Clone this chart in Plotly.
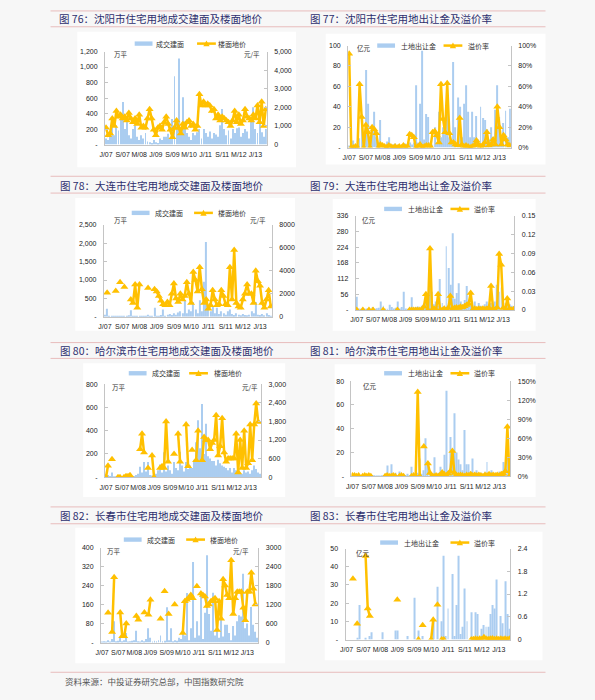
import plotly.graph_objects as go

W, H = 595, 700
BG = "#f7f7f7"
BAR_COLOR = "#abcdf0"
LINE_COLOR = "#ffc000"
AXIS_COLOR = "#c4c4c4"
TITLE_COLOR = "#2e2f6e"
RULE_COLOR = "#e8bcbc"
CJK = "Noto Sans CJK SC"
LAT = "Liberation Sans, Arial"

# ---- time axis: monthly, Jan 2007 .. Jun 2013 ----
N_MONTHS = 78
months = list(range(N_MONTHS))
x_tick_vals = [0, 8, 16, 24, 32, 40, 48, 56, 64, 72]
x_tick_text = ["J/07", "S/07", "M/08", "J/09", "S/09", "M/10", "J/11", "S/11", "M/12", "J/13"]

# ---- Fig 76 Shenyang: deal floor area (万平) & floor price (元/平) ----
sy_area = [80, 60, 150, 300, 120, 250, 180, 350, 550, 200,
           300, 120, 80, 200, 250, 100, 60, 120, 80, 150,
           40, 30, 20, 60, 30, 20, 80, 60, 100, 100,
           140, 80, 330, 880, 300, 1110, 200, 610, 300, 150,
           100, 60, 150, 120, 160, 200, 80, 200, 150, 100,
           170, 80, 150, 130, 100, 250, 460, 200, 120, 180,
           80, 200, 150, 210, 220, 100, 150, 200, 170, 80,
           300, 480, 200, 150, 300, 160, 100, 200]
sy_price = [900, 500, 600, 1400, 1000, 1800, 1500, 1600, 1400, 1500,
            1300, 1700, 1400, 1200, 1400, 1100, 1600, 900, 1000, 900,
            1400, 1900, 1400, 800, 500, 900, 1000, 800, 1200, 1500,
            1100, 800, 400, 900, 1300, 900, 600, 1100, 900, 1200,
            1300, 1000, 1100, 800, 1000, 2700, 2100, 2300, 2100, 2200,
            2100, 1800, 1900, 1400, 1600, 1300, 1500, 1400, 1300, 1200,
            1000, 1300, 1800, 1200, 1600, 1100, 1300, 1900, 1500, 1400,
            1300, 1600, 1400, 2100, 1200, 2300, 1000, 1900]
sy_left_vals = [0, 200, 400, 600, 800, 1000, 1200]
sy_left_text = ["-", "200", "400", "600", "800", "1,000", "1,200"]
sy_right_vals = [0, 1000, 2000, 3000, 4000, 5000]
sy_right_text = ["0", "1,000", "2,000", "3,000", "4,000", "5,000"]

# ---- Fig 77 Shenyang: land sale revenue (亿元) & premium rate (%) ----
sy_revenue = [2, 1, 7, 2, 3, 9, 30, 3, 76, 43,
              5, 20, 35, 10, 5, 27, 4, 3, 6, 10,
              2, 3, 4, 2, 3, 1, 2, 4, 3, 5,
              3, 5, 61, 5, 43, 95, 8, 33, 30, 5,
              3, 20, 5, 35, 10, 20, 15, 45, 10, 5,
              84, 20, 49, 40, 10, 43, 61, 35, 10, 35,
              10, 31, 8, 40, 29, 27, 18, 8, 20, 10,
              37, 61, 30, 10, 24, 36, 10, 38]
sy_premium = [92, 0, 0, 1, 0, 62, 30, 0, 22, 15,
              0, 20, 18, 14, 0, 3, 2, 1, 0, 2,
              1, 0, 1, 0, 1, 0, 2, 0, 1, 13,
              12, 10, 0, 1, 3, 0, 1, 2, 2, 1,
              15, 16, 12, 5, 62, 28, 15, 63, 14, 5,
              5, 3, 2, 29, 3, 1, 2, 1, 0, 1,
              2, 7, 3, 1, 2, 5, 15, 2, 3, 8,
              3, 40, 20, 3, 12, 8, 3, 2]
rev100_vals = [0, 20, 40, 60, 80, 100]
rev100_text = ["-", "20", "40", "60", "80", "100"]
pct100_vals = [0, 20, 40, 60, 80, 100]
pct100_text = ["0%", "20%", "40%", "60%", "80%", "100%"]

# ---- Fig 78 Dalian: floor area & floor price ----
dl_area = [60, 220, 10, 5, 20, 15, 5, 10, 30, 10,
           5, 40, 180, 20, 30, 10, 5, 10, 20, 20,
           60, 10, 30, 250, 20, 15, 50, 200, 30, 60,
           80, 50, 100, 60, 120, 150, 100, 450, 100, 200,
           150, 400, 200, 100, 450, 150, 950, 2030, 200, 150,
           300, 100, 250, 80, 150, 100, 60, 150, 200, 80,
           50, 100, 60, 40, 80, 50, 40, 60, 150, 100,
           400, 60, 50, 80, 40, 100, 50, 30]
dl_price = [None, 2100, None, None, None, 2250, None, 3000, None, 2600,
            None, None, 1500, 1200, 2800, 800, 2800, None, None, None,
            2500, None, None, 2400, 2200, 1800, 1400, 1100, 1000, 1300,
            1000, 2000, 2900, 1600, 1300, 2000, 1500, 1800, 3000, 2000,
            1200, 3900, 3200, 2200, 4300, 2400, 1200, 1500, 700, 1000,
            2300, 1500, 1000, 1100, 2300, 1800, 1100, 1000, 4300, 1500,
            5800, 1200, 900, 800, 1500, 2000, 2800, 2000, 2000, 1200,
            4000, 3100, 2700, 1200, 800, 1500, 2300, 900]
dl_left_vals = [0, 500, 1000, 1500, 2000, 2500]
dl_left_text = ["-", "500", "1,000", "1,500", "2,000", "2,500"]
dl_right_vals = [0, 2000, 4000, 6000, 8000]
dl_right_text = ["0", "2000", "4000", "6000", "8000"]

# ---- Fig 79 Dalian: land revenue & premium rate ----
dl_revenue = [47, 5, 3, 8, 2, 5, 3, 4, 10, 3,
              6, 8, 30, 15, 5, 3, 18, 10, 5, 8,
              30, 5, 10, 65, 5, 3, 8, 45, 5, 10,
              12, 8, 15, 20, 25, 30, 141, 65, 20, 30,
              15, 110, 25, 15, 227, 150, 90, 274, 40, 60,
              95, 30, 20, 35, 85, 30, 20, 15, 30, 10,
              25, 15, 10, 20, 30, 15, 25, 20, 30, 90,
              65, 80, 15, 25, 40, 20, 15, 10]
dl_premium = [0, None, None, 0, None, None, 0, None, 0, None,
              None, None, None, 0, None, None, None, None, None, None,
              0, None, None, None, None, None, 0, 0, 0, 0,
              0, 0, 0, 0.005, 0.025, 0, 0.098, 0, 0.002, 0,
              0.025, 0, 0, 0.002, 0, 0.003, 0.022, 0, 0.003, 0.004,
              0.003, 0.005, 0.004, 0.006, 0.008, 0.01, 0.027, 0, 0.002, 0.001,
              0.002, 0.001, 0.002, 0.001, 0.002, 0.003, 0.038, 0.002, 0, 0.004,
              0.089, 0.072, 0.003, 0, 0.018, 0.002, 0, 0.001]
dl_left2_vals = [0, 56, 112, 168, 224, 280, 336]
dl_left2_text = ["-", "56", "112", "168", "224", "280", "336"]
dl_right2_vals = [0, 0.03, 0.06, 0.09, 0.12, 0.15]
dl_right2_text = ["0", "0.03", "0.06", "0.09", "0.12", "0.15"]

# ---- Fig 80 Harbin: floor area & floor price ----
hb_area = [5, 20, 10, 40, 5, 3, 10, 5, 8, 5,
           10, 5, 8, 5, 10, 20, 30, 90, 40, 130,
           50, 130, 20, 15, 10, 30, 60, 110, 40, 215,
           50, 100, 60, 30, 130, 80, 60, 220, 100, 50,
           130, 70, 100, 80, 150, 300, 490, 250, 630, 200,
           460, 180, 160, 140, 140, 100, 150, 120, 100, 90,
           80, 60, 80, 40, 80, 60, 50, 40, 30, 60,
           40, 50, 30, 60, 100, 70, 40, 30]
hb_price = [0, 370, None, 580, None, None, 0, 0, None, 0,
            30, 30, 60, None, None, None, None, 900, 1400, 800,
            None, 300, None, 700, 0, None, None, 300, 350, 300,
            1800, 500, None, None, 750, None, 1400, 500, None, None,
            1700, 350, None, 880, None, 550, 1500, None, 550, 1300,
            1200, 1200, 900, 1100, 1200, 2000, 700, 1000, 1900, 800,
            500, 600, 600, 600, 600, 1400, 150, 1200, 300, 1500,
            300, 450, 1700, 550, 1700, 2380, 1780, None]
hb_left_vals = [0, 200, 400, 600, 800]
hb_left_text = ["-", "200", "400", "600", "800"]
hb_right_vals = [0, 600, 1200, 1800, 2400, 3000]
hb_right_text = ["0", "600", "1,200", "1,800", "2,400", "3,000"]

# ---- Fig 81 Harbin: land revenue & premium rate (%) ----
hb_revenue = [1, 0.5, 1, 0.5, 1, 0.5, 1, 0.5, 1, 0.5,
              1, 0.5, 1, 1, 0.5, 1, 2, 9, 1, 10,
              1, 3, 1, 4, 1, 2, 1, 2, 1, 8,
              2, 1, 3, 15, 2, 5, 32, 10, 2, 3,
              16, 2, 3, 8, 4, 18, 72, 5, 33, 22,
              53, 20, 14, 10, 5, 39, 10, 10, 4, 15,
              3, 5, 2, 3, 2, 4, 12, 3, 5, 2,
              3, 2, 4, 2, 12, 3, 24, 10]
hb_premium = [1, 1, 0, 1, None, 0, 1, 0, 1, 0,
              None, None, None, None, None, None, 0, 1, 0, 0,
              1, 0, None, 0, 1, 0, None, None, None, 0,
              1, 0, 133, 0, None, 47, None, 20, 5, 0,
              0, 1, 0, 2, 6, 3, 1, 4, 8, 40,
              5, 2, 1, 2, 1, 0, 2, 1, 3, 1,
              2, 1, 2, 1, 0, 2, 1, 3, 1, 2,
              1, 2, 1, 3, 4, 8, 78, 0]
rev80_vals = [0, 20, 40, 60, 80]
rev80_text = ["-", "20", "40", "60", "80"]
pct150_vals = [0, 30, 60, 90, 120, 150]
pct150_text = ["0%", "30%", "60%", "90%", "120%", "150%"]

# ---- Fig 82 Changchun: floor area & floor price ----
cc_area = [3, 5, 2, 10, 4, 15, 90, 5, 8, 20,
           5, 10, 40, 3, 5, 8, 10, 50, 5, 3,
           10, 5, 15, 60, 20, 3, 8, 5, 10, 30,
           5, 8, 149, 10, 60, 5, 10, 8, 20, 15,
           80, 30, 209, 10, 60, 339, 20, 90, 30, 200,
           15, 125, 367, 120, 50, 210, 30, 100, 20, 130,
           25, 75, 75, 40, 10, 70, 30, 90, 115, 110,
           290, 60, 80, 30, 150, 75, 45, 20]
cc_price = [None, None, None, 940, None, 330, 2060, None, None, 950,
            200, 200, 600, None, None, None, None, 840, 720, None,
            None, 950, None, 880, 1350, None, None, None, None, 750,
            None, 1620, None, 900, None, None, 1200, None, None, None,
            300, 1300, 1350, 1400, 1500, 1400, None, 1780, None, 1550,
            1500, 1450, 1150, 1200, 1300, 1350, 1400, 400, 1300, 750,
            2000, 1800, 1500, 1400, 2600, 900, 1400, 1600, 1600, 1600,
            1100, 700, 1600, 1600, 2200, 1700, 1200, None]
cc_left_vals = [0, 80, 160, 240, 320, 400]
cc_left_text = ["-", "80", "160", "240", "320", "400"]
cc_right_vals = [0, 600, 1200, 1800, 2400, 3000]
cc_right_text = ["0", "600", "1200", "1800", "2400", "3000"]

# ---- Fig 83 Changchun: land revenue & premium rate ----
cc_revenue = [0, 0, 0, 0, 0, 1, 19, 0, 0, 1,
              0, 2, 4, 0, 0, 0, 0, 4, 0, 0,
              0, 0, 0, 5, 5, 0, 0, 0, 0, 2,
              0, 0, 23, 0, 5, 0, 2, 0, 0, 0,
              0, 10, 0, 29, 0, 10, 46, 2, 17, 0,
              36, 2, 19, 46, 3, 7, 28, 10, 0, 15,
              0, 15, 14, 0, 6, 8, 7, 7, 14, 19,
              17, 33, 0, 13, 9, 32, 14, 6]
cc_premium = [None, None, None, 1.6, None, 0.42, None, None, None, 2.2,
              0.82, 0.62, None, None, None, None, None, None, None, None,
              None, None, None, None, 1.05, None, None, None, None, None,
              None, None, None, None, 0, None, 0.38, None, None, None,
              0, 0.52, None, 0.92, None, 0, 0, None, None, None,
              None, None, None, None, None, None, None, None, None, 0,
              0.01, 0.02, 0.01, 0.02, 0.01, 0.06, 0.02, 0.01, 0.02, 0.03,
              0.01, 0.02, 0.01, 0.02, 0.01, 0.02, 0.01, 0.02]
rev50_vals = [0, 10, 20, 30, 40, 50]
rev50_text = ["-", "10", "20", "30", "40", "50"]
r24_vals = [0, 0.6, 1.2, 1.8, 2.4]
r24_text = ["0", "0.6", "1.2", "1.8", "2.4"]

AREA_NAMES = ("成交建面", "楼面地价")
LAND_NAMES = ("土地出让金", "溢价率")

charts = [
    dict(title="图 76：沈阳市住宅用地成交建面及楼面地价", bars=sy_area, line=sy_price, names=AREA_NAMES,
         lu="万平", ru="元/平", lv=sy_left_vals, lt=sy_left_text, rv=sy_right_vals, rt=sy_right_text,
         plot=(100, 263.5, 48, 142), panel=(72, 293, 28, 165), tpos=(52, 15),
         leg=(40, 130, 150, 193, 212), lupos=(107, 51), rupos=(259, 51)),
    dict(title="图 77：沈阳市住宅用地出让金及溢价率", bars=sy_revenue, line=sy_premium, names=LAND_NAMES,
         lu="亿元", ru=None, lv=rev100_vals, lt=rev100_text, rv=pct100_vals, rt=pct100_text,
         plot=(345.6, 510, 42, 145), panel=(323, 545, 30, 162), tpos=(305, 15),
         leg=(42, 375, 397, 442, 465), lupos=(353, 44), rupos=None),
    dict(title="图 78：大连市住宅用地成交建面及楼面地价", bars=dl_area, line=dl_price, names=AREA_NAMES,
         lu="万平", ru="元/平", lv=dl_left_vals, lt=dl_left_text, rv=dl_right_vals, rt=dl_right_text,
         plot=(98.9, 268.6, 223, 316), panel=(70, 292, 196, 330), tpos=(53, 183),
         leg=(211, 127, 148, 190, 212), lupos=(107, 218), rupos=(265, 218)),
    dict(title="图 79：大连市住宅用地出让金及溢价率", bars=dl_revenue, line=dl_premium, names=LAND_NAMES,
         lu="亿元", ru=None, lv=dl_left2_vals, lt=dl_left2_text, rv=dl_right2_vals, rt=dl_right2_text,
         plot=(353.3, 513.6, 214, 309), panel=(330, 535, 197, 330), tpos=(305, 183),
         leg=(207, 382, 404, 449, 471), lupos=(358, 218), rupos=None),
    dict(title="图 80：哈尔滨市住宅用地成交建面及楼面地价", bars=hb_area, line=hb_price, names=AREA_NAMES,
         lu="万平", ru="元/平", lv=hb_left_vals, lt=hb_left_text, rv=hb_right_vals, rt=hb_right_text,
         plot=(100, 257.8, 384, 478), panel=(78, 282, 363, 498), tpos=(53, 350),
         leg=(373, 124, 145, 185, 208), lupos=(105, 387), rupos=(257, 387)),
    dict(title="图 81：哈尔滨市住宅用地出让金及溢价率", bars=hb_revenue, line=hb_premium, names=LAND_NAMES,
         lu="亿元", ru=None, lv=rev80_vals, lt=rev80_text, rv=pct150_vals, rt=pct150_text,
         plot=(349, 509.6, 381, 477), panel=(332, 535, 364, 498), tpos=(305, 350),
         leg=(373, 382, 404, 449, 471), lupos=(359, 386), rupos=None),
    dict(title="图 82：长春市住宅用地成交建面及楼面地价", bars=cc_area, line=cc_price, names=AREA_NAMES,
         lu="万平", ru="元/平", lv=cc_left_vals, lt=cc_left_text, rv=cc_right_vals, rt=cc_right_text,
         plot=(96, 255, 549, 645), panel=(70, 282, 529, 666), tpos=(53, 517),
         leg=(541, 119, 140, 182, 204), lupos=(100, 553), rupos=(247, 553)),
    dict(title="图 83：长春市住宅用地出让金及溢价率", bars=cc_revenue, line=cc_premium, names=LAND_NAMES,
         lu="亿元", ru=None, lv=rev50_vals, lt=rev50_text, rv=r24_vals, rt=r24_text,
         plot=(343, 509.5, 550, 642), panel=(322, 542, 533, 663), tpos=(305, 517),
         leg=(544, 378, 400, 449, 471), lupos=(352, 555), rupos=None),
]


def fx(px):
    return px / W


def fy(py):
    return 1 - py / H


fig = go.Figure()
layout = dict(width=W, height=H, margin=dict(l=0, r=0, t=0, b=0),
              paper_bgcolor=BG, plot_bgcolor="rgba(0,0,0,0)", showlegend=False,
              bargap=0.55, hovermode=False)
shapes = []
annotations = []


def ann(text, x, y, size, color, xanchor="left", family=CJK):
    return dict(text=text, x=fx(x), y=fy(y), xref="paper", yref="paper", showarrow=False,
                xanchor=xanchor, yanchor="middle", font=dict(size=size, color=color, family=family))


for rule_y in [7, 23, 174, 191, 342, 358, 508, 525, 675]:
    shapes.append(dict(type="line", xref="paper", yref="paper", x0=fx(45), x1=fx(545),
                       y0=fy(rule_y), y1=fy(rule_y), line=dict(color=RULE_COLOR, width=1), layer="below"))

for k, c in enumerate(charts, start=1):
    xa = "xaxis" if k == 1 else f"xaxis{k}"
    xr = "x" if k == 1 else f"x{k}"
    yl_i, yr_i = 2 * k - 1, 2 * k
    yla = "yaxis" if yl_i == 1 else f"yaxis{yl_i}"
    ylr = "y" if yl_i == 1 else f"y{yl_i}"
    yra, yrr = f"yaxis{yr_i}", f"y{yr_i}"
    L, R, T, B = c["plot"]

    # panel background
    pl, pr, pt, pb = c["panel"]
    shapes.append(dict(type="rect", xref="paper", yref="paper", x0=fx(pl), x1=fx(pr), y0=fy(pb), y1=fy(pt),
                       fillcolor="white", line=dict(width=0), layer="below"))

    layout[xa] = dict(domain=[fx(L), fx(R)], anchor=ylr, range=[-0.5, N_MONTHS - 0.5],
                      tickvals=x_tick_vals, ticktext=x_tick_text, showgrid=False, zeroline=False,
                      showline=True, linecolor=AXIS_COLOR, linewidth=1, ticks="", tickangle=0,
                      ticklabelstandoff=3, tickfont=dict(size=7, family=LAT, color="#222"))
    layout[yla] = dict(domain=[fy(B), fy(T)], anchor=xr, range=[0, c["lv"][-1]],
                       tickvals=c["lv"], ticktext=c["lt"], showgrid=False, zeroline=False,
                       showline=True, linecolor=AXIS_COLOR, linewidth=1, ticks="inside", ticklen=3,
                       tickcolor=AXIS_COLOR, ticklabelstandoff=5,
                       tickfont=dict(size=7, family=LAT, color="#222"))
    layout[yra] = dict(overlaying=ylr, side="right", anchor=xr, range=[0, c["rv"][-1]],
                       tickvals=c["rv"], ticktext=c["rt"], showgrid=False, zeroline=False,
                       showline=True, linecolor=AXIS_COLOR, linewidth=1, ticks="inside", ticklen=3,
                       tickcolor=AXIS_COLOR, ticklabelstandoff=5,
                       tickfont=dict(size=7, family=LAT, color="#222"))

    fig.add_trace(go.Bar(x=months, y=c["bars"], xaxis=xr, yaxis=ylr, name=c["names"][0],
                         marker=dict(color=BAR_COLOR, line=dict(width=0))))
    fig.add_trace(go.Scatter(x=months, y=c["line"], xaxis=xr, yaxis=yrr, name=c["names"][1],
                             mode="lines+markers", connectgaps=False,
                             line=dict(color=LINE_COLOR, width=2.5),
                             marker=dict(symbol="triangle-up", size=7, color=LINE_COLOR)))

    # title
    tx, ty = c["tpos"]
    annotations.append(ann(c["title"], tx, ty, 10.5, TITLE_COLOR))

    # legend (drawn)
    ly, bx, btx, lx, ltx = c["leg"]
    shapes.append(dict(type="rect", xref="paper", yref="paper", x0=fx(bx), x1=fx(bx + 18),
                       y0=fy(ly + 2.2), y1=fy(ly - 2.2), fillcolor=BAR_COLOR, line=dict(width=0)))
    shapes.append(dict(type="line", xref="paper", yref="paper", x0=fx(lx), x1=fx(lx + 19),
                       y0=fy(ly), y1=fy(ly), line=dict(color=LINE_COLOR, width=2.5)))
    cx = lx + 9.5
    tri = (f"M {fx(cx - 3.2)},{fy(ly + 2.8)} L {fx(cx + 3.2)},{fy(ly + 2.8)} "
           f"L {fx(cx)},{fy(ly - 3.2)} Z")
    shapes.append(dict(type="path", xref="paper", yref="paper", path=tri,
                       fillcolor=LINE_COLOR, line=dict(width=0)))
    annotations.append(ann(c["names"][0], btx, ly, 7, "#333"))
    annotations.append(ann(c["names"][1], ltx, ly, 7, "#333"))

    # units
    ux, uy = c["lupos"]
    annotations.append(ann(c["lu"], ux, uy, 6.5, "#333"))
    if c["ru"]:
        rx, ry = c["rupos"]
        annotations.append(ann(c["ru"], rx, ry, 6.5, "#333", xanchor="right"))

annotations.append(ann("资料来源：中投证券研究总部，中国指数研究院", 58, 684, 8.5, "#555"))

layout["shapes"] = shapes
layout["annotations"] = annotations
fig.update_layout(**layout)
fig.write_html("out.html", config={"displayModeBar": False})
